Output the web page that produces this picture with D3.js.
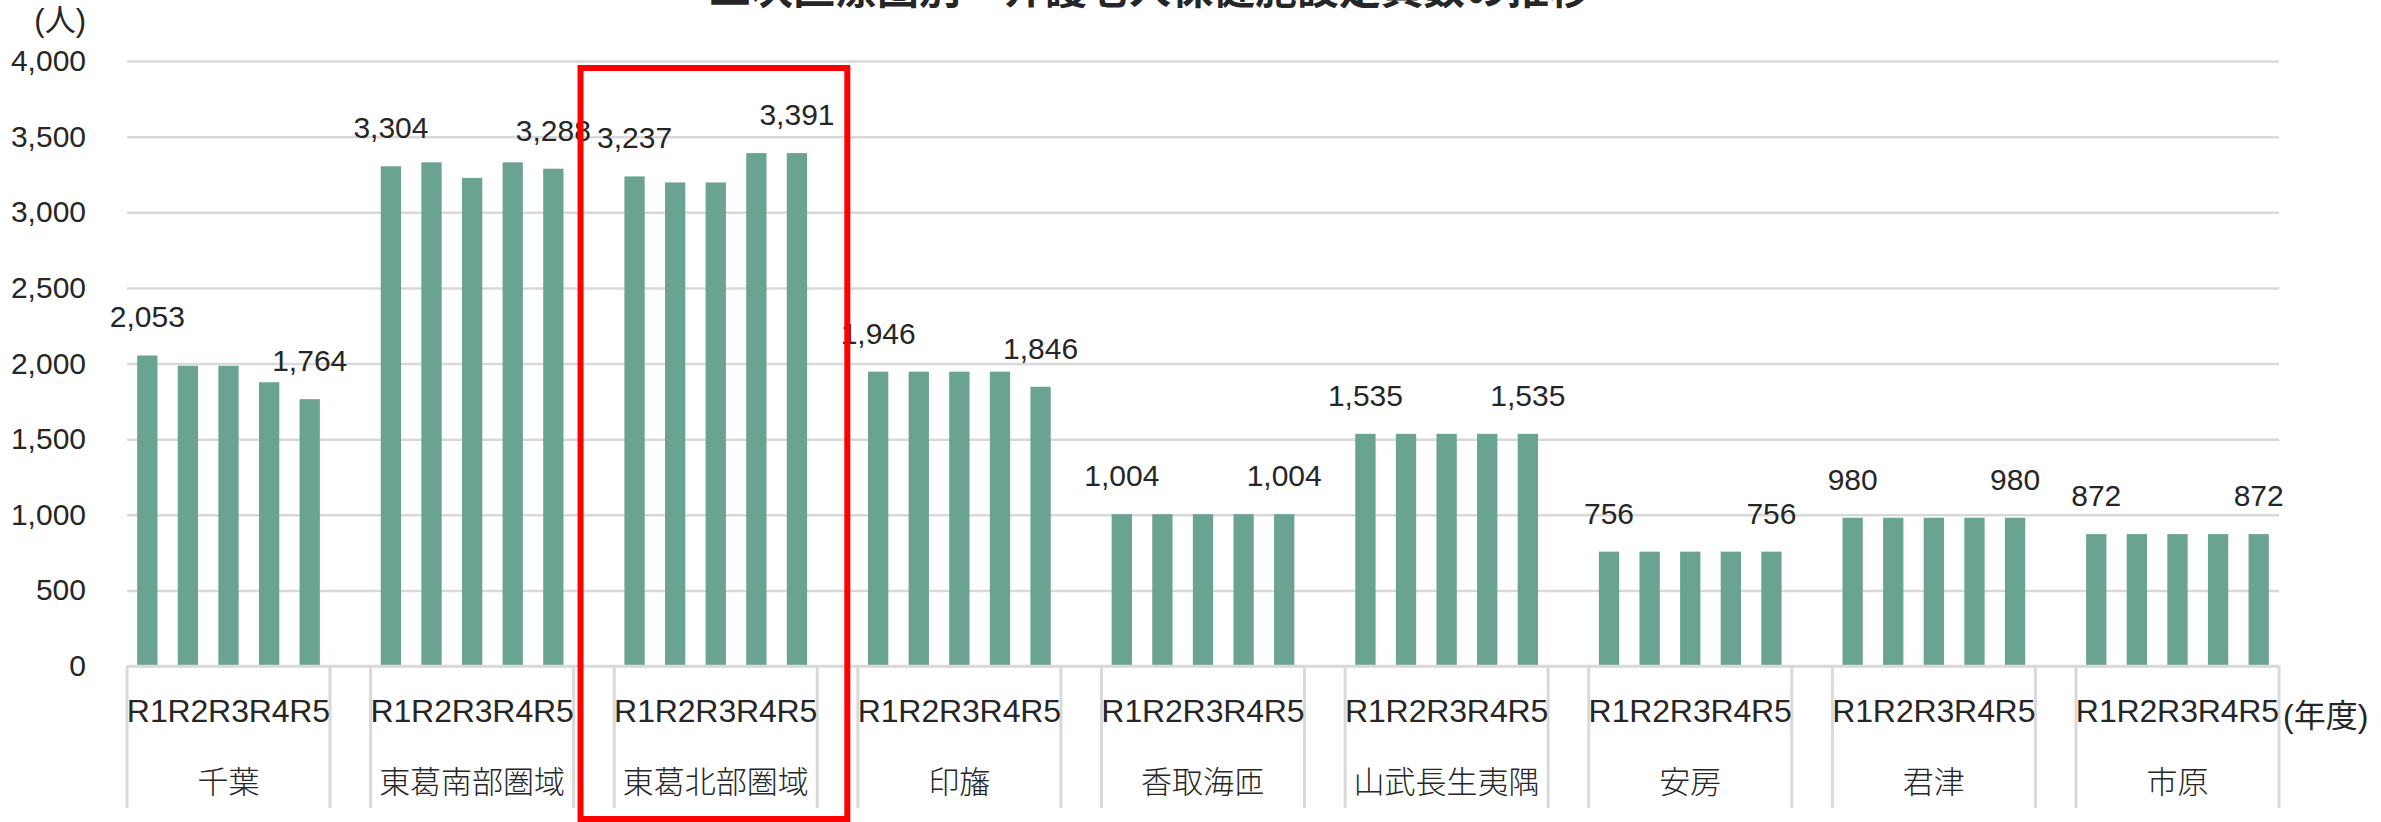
<!DOCTYPE html>
<html lang="ja">
<head>
<meta charset="utf-8">
<script src="https://cdn.jsdelivr.net/npm/d3@7"></script>
<style>
  html, body { margin: 0; padding: 0; background: #fff; }
  svg { display: block; }
  text { font-family: "Liberation Sans", "Noto Sans CJK JP", sans-serif; fill: #262626; }
  .cjk { font-family: "Noto Sans CJK JP", "Liberation Sans", sans-serif; }
</style>
</head>
<body>
<svg id="chart" width="2381" height="822"></svg>
<script>
// 二次医療圏別 介護老人保健施設定員数（R1〜R5年度）
const title = "二次医療圏別　介護老人保健施設定員数の推移";
const regions = ["千葉", "東葛南部圏域", "東葛北部圏域", "印旛", "香取海匝", "山武長生夷隅", "安房", "君津", "市原"];
const years = ["R1", "R2", "R3", "R4", "R5"];

const chiba      = [2053, 1985, 1985, 1876, 1764];
const tokatsuS   = [3304, 3330, 3227, 3330, 3288];
const tokatsuN   = [3237, 3197, 3197, 3391, 3391];
const inba       = [1946, 1946, 1946, 1946, 1846];
const katori     = [1004, 1004, 1004, 1004, 1004];
const sanbu      = [1535, 1535, 1535, 1535, 1535];
const awa        = [756, 756, 756, 756, 756];
const kimitsu    = [980, 980, 980, 980, 980];
const ichihara   = [872, 872, 872, 872, 872];
const seriesByRegion = [chiba, tokatsuS, tokatsuN, inba, katori, sanbu, awa, kimitsu, ichihara];

const yTicks = [0, 500, 1000, 1500, 2000, 2500, 3000, 3500, 4000];
const labelledYears = ["R1", "R5"];
const highlightRegion = "東葛北部圏域";

(function draw() {
  const svg = d3.select("#chart");
  const plotLeft = 127, plotRight = 2279, plotTop = 61, plotBase = 666;
  const barColor = "#6AA392";
  const gridColor = "#d9d9d9";

  // Category slots: five years per region, followed by an empty spacer slot.
  const slots = [];
  regions.forEach((r, gi) => {
    years.forEach((yr, yi) => slots.push({ key: r + "|" + yr, region: r, year: yr, value: seriesByRegion[gi][yi] }));
    if (gi < regions.length - 1) slots.push({ key: r + "|gap", region: r, year: null, value: null });
  });

  const x = d3.scaleBand()
    .domain(slots.map(d => d.key))
    .range([plotLeft, plotRight])
    .paddingInner(0.5)
    .paddingOuter(0.25);
  const step = x.step();
  const slotStart = k => x(k) - step * 0.25;
  const slotCenter = k => x(k) + x.bandwidth() / 2;

  const y = d3.scaleLinear().domain([0, 4000]).range([plotBase, plotTop]);

  // Gridlines and value axis labels
  const yAxis = d3.axisLeft(y)
    .tickValues(yTicks)
    .tickSize(-(plotRight - plotLeft))
    .tickPadding(41)
    .tickFormat(d3.format(","));
  const gy = svg.append("g").attr("transform", `translate(${plotLeft},0)`).call(yAxis);
  gy.select(".domain").remove();
  gy.selectAll(".tick line").attr("stroke", gridColor).attr("stroke-width", 2.5);
  gy.selectAll(".tick text")
    .attr("font-size", 30)
    .attr("font-family", "Liberation Sans, Noto Sans CJK JP, sans-serif")
    .attr("fill", "#262626");

  // Bars
  const bars = slots.filter(d => d.value !== null);
  svg.append("g").selectAll("rect")
    .data(bars)
    .join("rect")
    .attr("x", d => x(d.key))
    .attr("width", x.bandwidth())
    .attr("y", d => y(d.value))
    .attr("height", d => y(0) - y(d.value))
    .attr("fill", barColor);

  // Value labels for the first and last year of each region
  svg.append("g").selectAll("text")
    .data(bars.filter(d => labelledYears.includes(d.year)))
    .join("text")
    .attr("x", d => slotCenter(d.key))
    .attr("y", d => y(d.value) - 28)
    .attr("text-anchor", "middle")
    .attr("font-size", 30)
    .text(d => d3.format(",")(d.value));

  // Category axis: baseline, separators, year and region labels
  svg.append("line")
    .attr("x1", plotLeft).attr("x2", plotRight)
    .attr("y1", plotBase).attr("y2", plotBase)
    .attr("stroke", gridColor).attr("stroke-width", 2.5);

  const separators = [];
  regions.forEach(r => {
    const first = r + "|" + years[0];
    separators.push(slotStart(first));
    separators.push(slotStart(first) + step * years.length);
  });
  svg.append("g").selectAll("line")
    .data(separators)
    .join("line")
    .attr("x1", d => d).attr("x2", d => d)
    .attr("y1", plotBase).attr("y2", 808)
    .attr("stroke", gridColor).attr("stroke-width", 3);

  svg.append("g").selectAll("text")
    .data(bars)
    .join("text")
    .attr("x", d => slotCenter(d.key))
    .attr("y", 722)
    .attr("text-anchor", "middle")
    .attr("font-size", 32)
    .text(d => d.year);

  svg.append("g").selectAll("text")
    .data(regions)
    .join("text")
    .attr("class", "cjk")
    .attr("x", r => slotStart(r + "|" + years[0]) + step * years.length / 2)
    .attr("y", 793)
    .attr("text-anchor", "middle")
    .attr("font-size", 31)
    .attr("font-weight", 300)
    .text(r => r);

  // Units
  svg.append("text")
    .attr("x", 86).attr("y", 31)
    .attr("text-anchor", "end")
    .attr("font-size", 31)
    .text("(人)");
  svg.append("text")
    .attr("x", 2283).attr("y", 727)
    .attr("font-size", 32)
    .text("(年度)");

  // Title
  svg.append("text").attr("class", "cjk")
    .attr("x", 1150).attr("y", 4)
    .attr("text-anchor", "middle")
    .attr("font-size", 42)
    .attr("font-weight", 700)
    .attr("fill", "#000")
    .text(title);

  // Highlight frame around one region
  const hFirst = highlightRegion + "|" + years[0];
  const hx0 = slotStart(hFirst) - step * 0.83;
  const hx1 = slotStart(hFirst) + step * (years.length + 0.74);
  svg.append("rect")
    .attr("x", hx0).attr("y", 68)
    .attr("width", hx1 - hx0).attr("height", 751)
    .attr("fill", "none")
    .attr("stroke", "#ff0000")
    .attr("stroke-width", 6);
})();
</script>
</body>
</html>
